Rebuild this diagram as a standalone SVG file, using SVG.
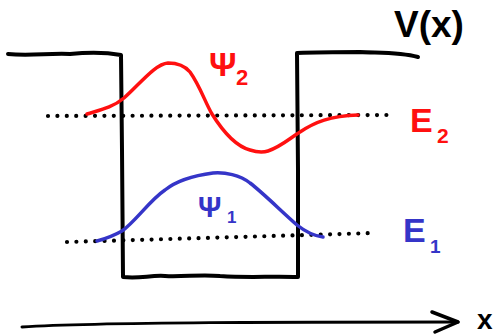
<svg xmlns="http://www.w3.org/2000/svg" width="499" height="336" viewBox="0 0 499 336">
<style>
.ln{fill:none;stroke-linecap:round;stroke-linejoin:round}
.blk{stroke:#000}
.red{stroke:#ff1010}
.blu{stroke:#3535c8}
.dot{fill:none;stroke:#000;stroke-width:4.2;stroke-linecap:round;stroke-dasharray:0 9.4}
.t{font-family:"Liberation Sans","DejaVu Sans",sans-serif;font-weight:bold}
</style>
<rect width="499" height="336" fill="#fff"/>
<g id="levels">
<path class="dot" d="M48,116 L395,115"/>
<path class="dot" d="M67,242 L375,233"/>
</g>
<g id="potential">
<path class="ln blk" stroke-width="4" d="M8,54 C30,56 50,53 70,54 C90,52 110,53 121,55 L122,150 L123,277 C140,279 150,275 165,276 C185,277 200,274 220,276 C250,278 270,276 298,277 L298,170 L297,53 C320,52 340,52 360,52 C380,53 400,52 418,57"/>
</g>
<g id="psi2">
<path class="ln red" stroke-width="3.5" d="M87,114 C100,110 112,108 124,98 C140,84 155,64 168,63 C178,63 185,66 190,72 C200,86 205,102 212,114 C222,130 235,146 250,150 C256,152 262,153 268,151 C282,146 290,138 300,132 C315,122 330,116 358,115"/>
</g>
<g id="psi1">
<path class="ln blu" stroke-width="3.5" d="M97,241 C108,238 115,235 122,231 C135,222 150,200 165,190 C175,182 190,176 213,173 C225,172 240,175 250,183 C262,192 280,210 297,225 C307,233 315,236 323,237"/>
</g>
<g id="axis">
<path class="ln blk" stroke-width="3" d="M22,327 C100,322 300,322 458,322"/>
<path class="ln blk" stroke-width="3.5" d="M432,312 L458,322 L435,332"/>
</g>
<g id="labels">
<text class="t" x="394" y="37" font-size="37" fill="#000">V(x)</text>
<text class="t" x="209" y="76" font-size="34" fill="#ff1010">Ψ<tspan x="236" y="85" font-size="22">2</tspan></text>
<text class="t" x="410" y="132" font-size="34" fill="#ff1010">E<tspan x="437" y="143" font-size="21">2</tspan></text>
<text class="t" x="198" y="217" font-size="29" fill="#3535c8">Ψ<tspan x="227" y="223" font-size="17">1</tspan></text>
<text class="t" x="403" y="242" font-size="34" fill="#3535c8">E<tspan x="430" y="253" font-size="19">1</tspan></text>
<text class="t" x="477" y="329" font-size="28" fill="#000">x</text>
</g>
</svg>
